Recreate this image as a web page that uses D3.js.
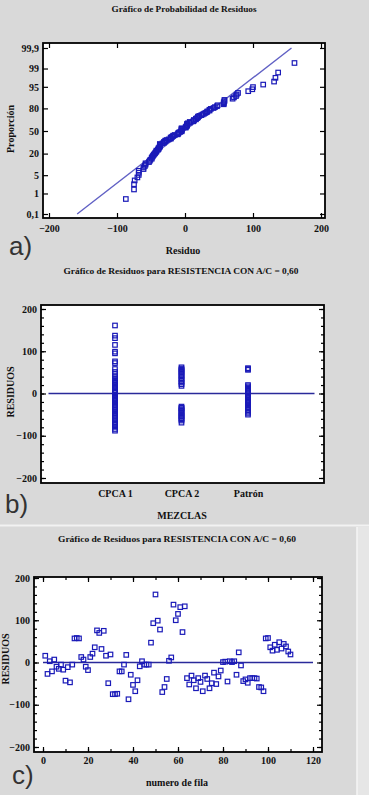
<!DOCTYPE html>
<html>
<head>
<meta charset="utf-8">
<script src="https://cdn.jsdelivr.net/npm/d3@7"></script>
<style>
  body { margin: 0; background: #d9d9d9; }
  svg { display: block; }
  text { font-family: "Liberation Serif", "DejaVu Serif", serif; font-weight: bold; fill: #111; }
  .letra { font-family: "Liberation Sans", Arial, sans-serif; font-weight: normal; fill: #333; }
</style>
</head>
<body>
<svg width="369" height="795"></svg>
<script>
// residuos en orden de fila (grafico c); fila = indice + 1
var residuos = [
  16, -27, 3, -21, 7, -10, -15, -5, -17, -43, -11, -47, -5, 57, 58, 57,
  13, 7, -10, -18, 13, 21, 36, 76, 70, 32, 75, 16, -49, 19,
  -75, -75, -74, -21, -21, -5, 18, -87, -29, -53, -68, -42, -9, 3, -5, -5, -5,
  47, 93, 161, 99, 78, -70, -58, -39, 4, 12, 137, 100, 115, 131, 72, 133,
  -37, -52, -31, -42, -61, -37, -46, -68, -31, -39, -61, -49, -24, -51, -33, -19,
  1, 2, -45, 3, 1, 3, -29, 24, -7,
  -44, -40, -48, -37, -37, -37, -38, -58, -59, -68,
  57, 58,
  36, 28, 42, 30, 48, 33, 44, 38,
  26, 19
];

// grafico b: residuos por mezcla
var mezclas = ["CPCA 1", "CPCA 2", "Patrón"];
var resCPCA1 = [161, 137, 131, 115, 99, 95, 76, 72, 58, 51, 46, 41, 36, 32, 28, 24, 21, 19, 16, 13, 12, 7, 4, 3, 1,
  -3, -5, -7, -10, -12, -15, -18, -21, -24, -27, -29, -33, -37, -39, -42, -45, -47, -50, -53, -57,
  -61, -64, -68, -70, -74, -75, -79, -84, -88];
var resCPCA2 = [62, 59, 56, 54, 50, 47, 43, 41, 36, 33, 29, 26, 22, 18, -31, -34, -35, -38, -41, -44, -47, -50, -53, -55, -58, -61, -64, -69];
var resPatron = [60, 58, 56, 20, 17, 14, 11, 9, 6, 3, 1, -4, -6, -9, -12, -15, -18, -21, -23, -26, -28, -33, -36, -40, -43, -46, -50];

// grafico a: ejes y recta ajustada
var probTicks = [0.1, 1, 5, 20, 50, 80, 95, 99, 99.9];
var probLabels = ["0,1", "1", "5", "20", "50", "80", "95", "99", "99,9"];
var residuoTicks = [-200, -100, 0, 100, 200];
var filaTicks = [0, 20, 40, 60, 80, 100, 120];
var rectaMedia = -1, rectaSigma = 51;

var titulo1 = "Gráfico de Probabilidad de Residuos";
var titulo2 = "Gráfico de Residuos para RESISTENCIA CON A/C = 0,60";

var azul = "#1a1ab8";
var svg = d3.select("svg");

// inversa de la normal (Acklam)
function probit(p) {
  var a = [-39.69683028665376, 220.9460984245205, -275.9285104469687, 138.3577518672690, -30.66479806614716, 2.506628277459239];
  var b = [-54.47609879822406, 161.5858368580409, -155.6989798598866, 66.80131188771972, -13.28068155288572];
  var c = [-0.007784894002430293, -0.3223964580411365, -2.400758277161838, -2.549732539343734, 4.374664141464968, 2.938163982698783];
  var d = [0.007784695709041462, 0.3224671290700398, 2.445134137142996, 3.754408661907416];
  var q, r;
  if (p < 0.02425) {
    q = Math.sqrt(-2 * Math.log(p));
    return (((((c[0]*q+c[1])*q+c[2])*q+c[3])*q+c[4])*q+c[5]) / ((((d[0]*q+d[1])*q+d[2])*q+d[3])*q+1);
  }
  if (p > 1 - 0.02425) {
    q = Math.sqrt(-2 * Math.log(1 - p));
    return -(((((c[0]*q+c[1])*q+c[2])*q+c[3])*q+c[4])*q+c[5]) / ((((d[0]*q+d[1])*q+d[2])*q+d[3])*q+1);
  }
  q = p - 0.5; r = q * q;
  return (((((a[0]*r+a[1])*r+a[2])*r+a[3])*r+a[4])*r+a[5])*q / (((((b[0]*r+b[1])*r+b[2])*r+b[3])*r+b[4])*r+1);
}

function marco(x0, y0, x1, y1) {
  svg.append("rect")
    .attr("x", x0).attr("y", y0)
    .attr("width", x1 - x0).attr("height", y1 - y0)
    .attr("fill", "#fff");
}

function borde(x0, y0, x1, y1) {
  svg.append("rect")
    .attr("x", x0).attr("y", y0)
    .attr("width", x1 - x0).attr("height", y1 - y0)
    .attr("fill", "none").attr("stroke", "#000").attr("stroke-width", 1.8);
}

function eje(axis, tx, ty) {
  var g = svg.append("g")
    .attr("transform", "translate(" + tx + "," + ty + ")")
    .call(axis);
  g.select(".domain").remove();
  g.attr("font-family", null).attr("font-size", 10);
  g.selectAll("line").attr("stroke", "#000").attr("stroke-width", 1.2);
  return g;
}

function cuadros(data, fx, fy) {
  svg.append("g").selectAll("rect")
    .data(data)
    .join("rect")
      .attr("x", function(d, i) { return fx(d, i) - 2.25; })
      .attr("y", function(d, i) { return fy(d, i) - 2.25; })
      .attr("width", 4.5).attr("height", 4.5)
      .attr("fill", "none")
      .attr("stroke", azul)
      .attr("stroke-width", 1.2);
}

function texto(t, x, y, opts) {
  var el = svg.append("text").attr("x", x).attr("y", y)
    .attr("text-anchor", "middle").attr("font-size", opts.size || 10).text(t);
  if (opts.len) el.attr("textLength", opts.len).attr("lengthAdjust", "spacingAndGlyphs");
  if (opts.rot) el.attr("transform", "rotate(-90," + x + "," + y + ")");
  return el;
}

// separadores de fondo
svg.append("line").attr("x1", 0).attr("x2", 369).attr("y1", 525.5).attr("y2", 525.5)
  .attr("stroke", "#f2f2f2").attr("stroke-width", 2);
svg.append("rect").attr("x", 357).attr("y", 527).attr("width", 12).attr("height", 268).attr("fill", "#e6e6e6");
svg.append("line").attr("x1", 357).attr("x2", 357).attr("y1", 527).attr("y2", 795)
  .attr("stroke", "#f4f4f4").attr("stroke-width", 1.5);

// ---------- a) grafico de probabilidad ----------
var xa = d3.scaleLinear().domain([-200, 200]).range([49, 321]);
var ya = d3.scaleLinear().domain([probit(0.001), probit(0.999)]).range([214, 48]);
var zTicks = probTicks.map(function(p) { return probit(p / 100); });

marco(43, 43, 325, 218);
eje(d3.axisLeft(ya).tickValues(zTicks).tickFormat(function(d, i) { return probLabels[i]; })
  .tickSize(-5).tickPadding(4), 43, 0);
eje(d3.axisRight(ya).tickValues(zTicks).tickFormat("").tickSize(-5), 325, 0);
eje(d3.axisBottom(xa).tickValues(residuoTicks).tickSize(-5).tickPadding(7), 0, 218);
eje(d3.axisTop(xa).tickValues(residuoTicks).tickFormat("").tickSize(-5), 0, 43);

var zr = [probit(0.001), probit(0.999)];
svg.append("line")
  .attr("x1", xa(rectaMedia + rectaSigma * zr[0])).attr("y1", ya(zr[0]))
  .attr("x2", xa(rectaMedia + rectaSigma * zr[1])).attr("y2", ya(zr[1]))
  .attr("stroke", "#6060c4").attr("stroke-width", 1.4);

var ordenados = residuos.slice().sort(d3.ascending);
var n = ordenados.length;
cuadros(ordenados,
  function(d) { return xa(d); },
  function(d, i) { return ya(probit((i + 1 - 0.375) / (n + 0.25))); });
borde(43, 43, 325, 218);

texto(titulo1, 184, 12, { size: 9, len: 145 });
texto("Residuo", 183, 254, {});
texto("Proporción", 14, 129, { rot: true });
svg.append("text").attr("class", "letra").attr("x", 9).attr("y", 255).attr("font-size", 26).text("a)");

// ---------- b) residuos por mezcla ----------
var xb = d3.scaleLinear().domain([1, 3]).range([115, 248]);
var yb = d3.scaleLinear().domain([-200, 200]).range([478, 309]);

marco(41, 305, 324, 483);
eje(d3.axisLeft(yb).ticks(20).tickFormat("").tickSize(-3), 41, 0);
eje(d3.axisRight(yb).ticks(20).tickFormat("").tickSize(-3), 324, 0);
eje(d3.axisLeft(yb).tickValues(residuoTicks).tickSize(-5).tickPadding(4), 41, 0);
eje(d3.axisRight(yb).tickValues(residuoTicks).tickFormat("").tickSize(-5), 324, 0);
eje(d3.axisBottom(xb).tickValues([1, 2, 3]).tickFormat(function(d, i) { return mezclas[i]; })
  .tickSize(0).tickPadding(7), 0, 483);

svg.append("line")
  .attr("x1", xb(0)).attr("x2", xb(4)).attr("y1", yb(0)).attr("y2", yb(0))
  .attr("stroke", "#2a2a9a").attr("stroke-width", 1.6);

[resCPCA1, resCPCA2, resPatron].forEach(function(grupo, k) {
  cuadros(grupo, function() { return xb(k + 1); }, function(d) { return yb(d); });
});
borde(41, 305, 324, 483);

texto(titulo2, 181, 274, { size: 9, len: 235 });
texto("MEZCLAS", 182, 519, {});
texto("RESIDUOS", 14, 392, { rot: true });
svg.append("text").attr("class", "letra").attr("x", 5).attr("y", 513).attr("font-size", 26).text("b)");

// ---------- c) residuos por numero de fila ----------
var xc = d3.scaleLinear().domain([0, 120]).range([43, 313]);
var yc = d3.scaleLinear().domain([-200, 200]).range([747, 578]);

marco(34, 577, 322, 752);
eje(d3.axisLeft(yc).ticks(20).tickFormat("").tickSize(-3), 34, 0);
eje(d3.axisRight(yc).ticks(20).tickFormat("").tickSize(-3), 322, 0);
eje(d3.axisLeft(yc).tickValues(residuoTicks).tickSize(-5).tickPadding(4), 34, 0);
eje(d3.axisRight(yc).tickValues(residuoTicks).tickFormat("").tickSize(-5), 322, 0);
eje(d3.axisBottom(xc).ticks(12).tickFormat("").tickSize(-3), 0, 752);
eje(d3.axisTop(xc).ticks(12).tickFormat("").tickSize(-3), 0, 577);
eje(d3.axisBottom(xc).tickValues(filaTicks).tickSize(-5).tickPadding(5), 0, 752);
eje(d3.axisTop(xc).tickValues(filaTicks).tickFormat("").tickSize(-5), 0, 577);

svg.append("line")
  .attr("x1", xc(0)).attr("x2", xc(120)).attr("y1", yc(0)).attr("y2", yc(0))
  .attr("stroke", "#2a2a9a").attr("stroke-width", 1.6);

cuadros(residuos, function(d, i) { return xc(i + 1); }, function(d) { return yc(d); });
borde(34, 577, 322, 752);

texto(titulo2, 177, 542, { size: 9, len: 238 });
texto("numero de fila", 177, 786, {});
texto("RESIDUOS", 9, 659, { rot: true });
svg.append("text").attr("class", "letra").attr("x", 12).attr("y", 784).attr("font-size", 26).text("c)");
</script>
</body>
</html>
